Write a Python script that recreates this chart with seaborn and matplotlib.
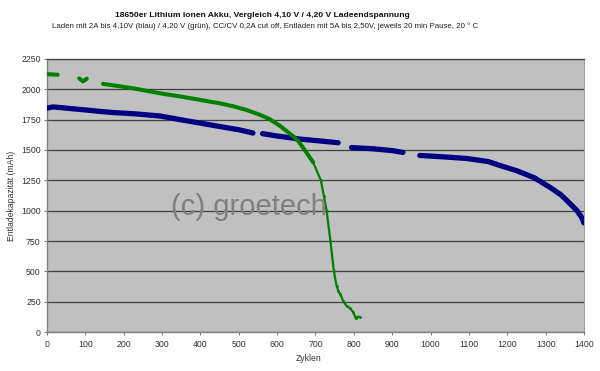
import pandas as pd
import matplotlib
matplotlib.use("Agg")
import matplotlib.pyplot as plt
import seaborn as sns

# Werte (Zyklus, Kapazität in mAh, Messabschnitt)
blue_cycles = [0, 16, 50, 100, 138, 175, 225, 295, 347, 399, 468, 500, 537,
               562, 600, 660, 700, 759,
               794, 850, 900, 928,
               972, 1000, 1050, 1094, 1150, 1181, 1224, 1270, 1311, 1340, 1355, 1381, 1394, 1400]
blue_capacity = [1845, 1855, 1845, 1830, 1818, 1808, 1799, 1780, 1750, 1722, 1684, 1667, 1640,
                 1635, 1615, 1590, 1578, 1560,
                 1520, 1510, 1495, 1480,
                 1455, 1450, 1440, 1430, 1405, 1372, 1330, 1272, 1193, 1130, 1085, 1003, 945, 898]
blue_run = [1] * 13 + [2] * 5 + [3] * 4 + [4] * 14

green_cycles = [0, 28,
                84, 94, 104,
                146, 175, 225, 295, 350, 399, 450, 486, 520, 555, 580, 607, 625, 642, 656, 672,
                694, 714, 722, 729, 739, 748, 755, 760, 765, 772, 781, 790, 798, 805, 808, 815]
green_capacity = [2125, 2120,
                  2090, 2065, 2088,
                  2045, 2032, 2008, 1967, 1940, 1913, 1885, 1860, 1830, 1790, 1755, 1700, 1655, 1613, 1570, 1500,
                  1398, 1250, 1120, 1000, 750, 500, 380, 335, 310, 255, 215, 195, 165, 112, 125, 125]
green_run = [1] * 2 + [2] * 3 + [3] * 32

blue = pd.DataFrame({"Zyklen": blue_cycles, "mAh": blue_capacity, "run": blue_run})
green = pd.DataFrame({"Zyklen": green_cycles, "mAh": green_capacity, "run": green_run})

sns.set_theme(style="white")
plt.rcParams["font.family"] = ["Liberation Sans", "DejaVu Sans"]

fig = plt.figure(figsize=(6, 3.71), dpi=100)
ax = fig.add_axes([0.0783, 0.1051, 0.895, 0.7359])
ax.set_facecolor("#c0c0c0")

# blaue Reihe (4,10 V)
sns.lineplot(data=blue, x="Zyklen", y="mAh", units="run", estimator=None, sort=False,
             color="#000080", linewidth=3.8, ax=ax, zorder=3)

# grüne Reihe (4,20 V): dichter Teil dick, steiler Abfall dünn
green_dense = green[green["Zyklen"] <= 694]
green_drop = green[green["Zyklen"] >= 694]
sns.lineplot(data=green_dense, x="Zyklen", y="mAh", units="run", estimator=None, sort=False,
             color="#008000", linewidth=2.9, ax=ax, zorder=4)
sns.lineplot(data=green_drop, x="Zyklen", y="mAh", estimator=None, sort=False,
             color="#008000", linewidth=1.6, marker="o", markersize=2, markeredgewidth=0,
             ax=ax, zorder=4)

ax.set_xlim(0, 1400)
ax.set_ylim(0, 2250)
ax.set_xticks(range(0, 1401, 100))
ax.set_yticks(range(0, 2251, 250))
ax.yaxis.grid(True, color="#404040", linewidth=0.9)
ax.xaxis.grid(False)
ax.set_axisbelow(True)

for side in ["left", "bottom"]:
    ax.spines[side].set_color("#808080")
    ax.spines[side].set_linewidth(1.0)
ax.spines["top"].set_color("#404040")
ax.spines["top"].set_linewidth(0.9)
ax.spines["right"].set_color("#a0a0a0")
ax.spines["right"].set_linewidth(0.8)

ax.tick_params(axis="both", direction="out", length=2.5, width=0.8, color="#808080",
               labelsize=6.3, labelcolor="#333333", pad=2)
ax.tick_params(axis="x", pad=3)
ax.tick_params(bottom=True, left=True)

ax.set_xlabel("Zyklen", fontsize=6.2, color="#333333")
ax.set_ylabel("Entladekapazität (mAh)", fontsize=6.2, color="#333333")
ax.xaxis.set_label_coords(0.488, -0.08)
ax.yaxis.set_label_coords(-0.058, 0.5)

ax.text(0.376, 0.458, "(c) groetech", transform=ax.transAxes, ha="center", va="center",
        fontsize=21, color="#808080", zorder=5)

fig.text(0.437, 1 - 15.7 / 371, "18650er Lithium Ionen Akku, Vergleich 4,10 V / 4,20 V Ladeendspannung",
         ha="center", va="center", fontsize=6.1, fontweight="bold", color="#111111")
fig.text(0.441, 1 - 26 / 371,
         "Laden mit 2A bis 4,10V (blau) / 4,20 V (grün), CC/CV 0,2A cut off, Entladen mit 5A bis 2,50V, jeweils 20 min Pause, 20 ° C",
         ha="center", va="center", fontsize=5.7, color="#222222")

fig.savefig("out.png", dpi=100, facecolor="white")
